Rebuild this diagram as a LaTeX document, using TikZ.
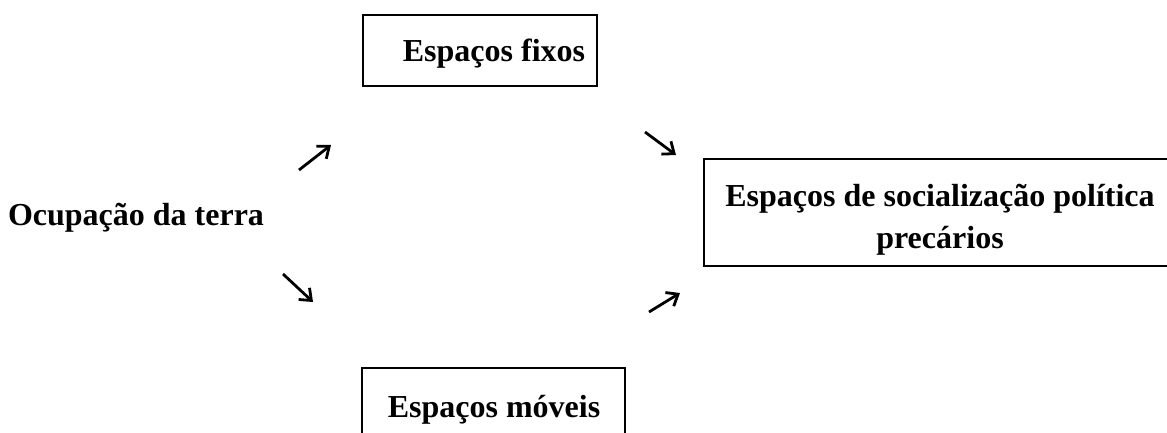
\documentclass[tikz,border=0pt]{standalone}
\usepackage{fontspec}
\setmainfont{Liberation Serif}
\usetikzlibrary{arrows.meta}
\tikzset{every node/.style={font=\bfseries\fontsize{24}{31.5}\selectfont, inner sep=0pt},
  box/.style={draw, line width=0.9pt},
  arr/.style={line width=2.1pt, -{Straight Barb[length=7.5pt,width=12pt,line width=2.1pt]}}}

\begin{document}
\begin{tikzpicture}[x=0.75pt,y=-0.75pt]
     \useasboundingbox (0,0) rectangle (1167,432);
     % the three frames
     \draw[box] (363,15) rectangle (597,86);
     \draw[box] (704,159) rectangle (1172,266);
     \draw[box] (362,368) rectangle (625,440);
     % labels
     \node[anchor=base] (terra) at (136,225) {Ocupação da terra};
     \node[anchor=base] (fixos) at (494,61) {Espaços fixos};
     \node[anchor=base, align=center] (precarios) at (940,248) {Espaços de socialização política\\precários};
     \node[anchor=base] (moveis) at (494,417) {Espaços móveis};
     % arrow ends
     \coordinate (s1) at (299,170); \coordinate (e1) at (331,145);
     \coordinate (s2) at (645,132); \coordinate (e2) at (676,155);
     \coordinate (s3) at (283,274); \coordinate (e3) at (313,302);
     \coordinate (s4) at (649,312); \coordinate (e4) at (680,293);
     \foreach \i in {1,...,4}
      \draw[arr] (s\i) -- (e\i);
    \end{tikzpicture}
\end{document}
